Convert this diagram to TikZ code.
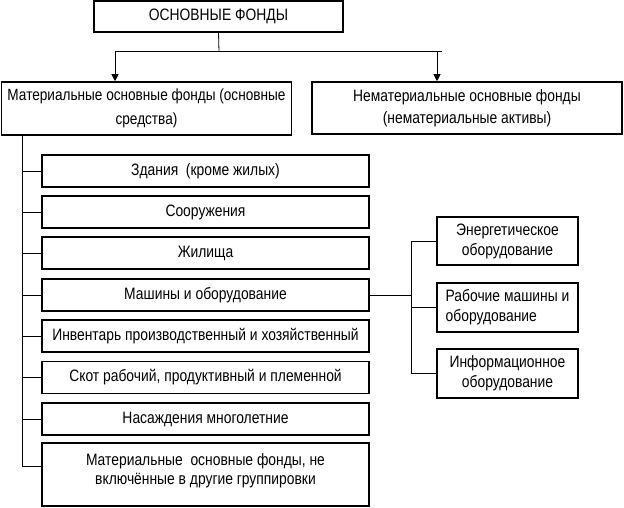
\documentclass[tikz,border=0pt]{standalone}
\usepackage{fontspec}
\setmainfont[FakeStretch=0.84]{Liberation Sans}
\usetikzlibrary{arrows.meta}

\tikzset{
  fondbox/.style={draw, line width=1.6pt, rectangle, inner sep=0pt, align=center,
    font=\fontsize{16.5}{20}\selectfont},
  itembox/.style={fondbox, minimum width=327, minimum height=32},
  subbox/.style={fondbox, minimum width=141, minimum height=48.5},
  link/.style={line width=0.8pt},
  tolink/.style={link, -{Triangle[width=7pt,length=7pt]}}
}

\begin{document}
\begin{tikzpicture}[x=1pt,y=1pt,yscale=-1,xscale=1]
        \useasboundingbox (0,0) rectangle (624,507);
        % top level
        \node [fondbox, minimum width=249, minimum height=31] (osn) at (218.5,16.5) {ОСНОВНЫЕ ФОНДЫ};
        \node [fondbox, minimum width=290, minimum height=53, font=\fontsize{16.2}{24.5}\selectfont] (mat) at (146.5,108.5) {Материальные основные фонды (основные\\средства)};
        \node [fondbox, minimum width=310, minimum height=52, font=\fontsize{16.5}{22}\selectfont] (nemat) at (467,108) {Нематериальные основные фонды\\(нематериальные активы)};
        \coordinate (split) at (219,51.7);
        \coordinate (la) at (115,51.7);
        \coordinate (ra) at (437,51.7);
        \coordinate (rend) at (442,51.7);
        \draw [link] (osn.south) -- (split);
        \draw [link] (la) -- (rend);
        \draw [tolink] (la) -- (la |- mat.north);
        \draw [tolink] (ra) -- (ra |- nemat.north);
        % groups of material fixed assets
        \node [itembox] (it1) at (205.5,171) {Здания~ (кроме жилых)};
        \node [itembox] (it2) at (205.5,212) {Сооружения};
        \node [itembox] (it3) at (205.5,253) {Жилища};
        \node [itembox] (it4) at (205.5,295) {Машины и оборудование};
        \node [itembox] (it5) at (205.5,336) {Инвентарь производственный и хозяйственный};
        \node [itembox] (it6) at (205.5,377.5) {Скот рабочий, продуктивный и племенной};
        \node [itembox] (it7) at (205.5,419) {Насаждения многолетние};
        \node [itembox, minimum height=63, font=\fontsize{16.5}{18.5}\selectfont] (it8) at (205.5,474.5) {Материальные~ основные фонды, не\\включённые в другие группировки\\[-8pt]\mbox{}};
        \coordinate (trunk) at (22,466);
        \draw [link] (mat.south -| trunk) -- (trunk);
        \foreach \i in {1,...,7}
          \draw [link] (trunk |- it\i.west) -- (it\i.west);
        \draw [link] (trunk) -- (trunk -| it8.west);
        % kinds of equipment
        \node [subbox] (eq1) at (507.5,241) {Энергетическое\\оборудование};
        \node [subbox, align=left] (eq2) at (507.5,307.5) {Рабочие машины и\\оборудование};
        \node [subbox] (eq3) at (507.5,373.5) {Информационное\\оборудование};
        \coordinate (fork) at (411.7,295);
        \draw [link] (it4.east) -- (fork);
        \draw [link] (fork |- eq1.west) -- (fork |- eq3.west);
        \foreach \j in {1,2,3}
          \draw [link] (fork |- eq\j.west) -- (eq\j.west);
    \end{tikzpicture}
\end{document}
